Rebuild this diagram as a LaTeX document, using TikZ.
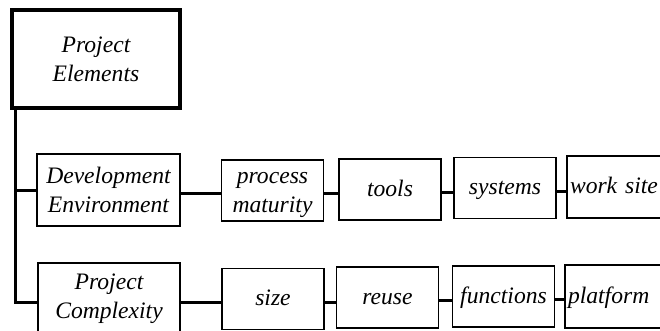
\documentclass[tikz,border=0pt]{standalone}
\usepackage{fontspec}
\setmainfont{Liberation Serif}
\usetikzlibrary{arrows,shapes}
\tikzstyle{box}=[rectangle, draw
,line width=1.3pt
,minimum width=102pt
,minimum height=61pt
,inner sep=2pt, align=center
,font=\fontsize{23.6}{29}\selectfont\itshape
]
\tikzstyle{oneline}=[box, text height=17pt, text depth=4pt]
\tikzstyle{rootbox}=[box, line width=4pt, minimum width=168pt, minimum height=98pt]
\tikzstyle{openbox}=[oneline, text width=97pt, align=left, inner xsep=3pt]
\tikzstyle{edge} = [draw,line width=3pt,-]

\begin{document}
\begin{tikzpicture}[x=1pt,y=-1pt]
    \useasboundingbox (0,0) rectangle (660,331);
    % The root and its two branches
    \node[rootbox] (PE) at (96,59) {Project\\Elements};
    \node[box, minimum width=143pt, minimum height=72pt] (DE) at (108.5,190) {Development\\Environment};
    \node[box, minimum width=142pt, minimum height=72pt] (PC) at (109,299) {Project\\Complexity};

    % Then the elements of each row
    \node[box] (PM) at (272.5,190.5) {\strut process\\maturity};
    \foreach \pos/\name/\txt in {{(390,189.5)/TL/tools}, {(505,188)/SY/systems}, {(273,299)/SZ/size}, {(387.5,297.5)/RU/reuse}, {(503.5,296.5)/FN/functions}}
        \node[oneline] (\name) at \pos {\txt};
    \node[openbox, minimum height=62pt] (WS) at (618.5,187) {work site};
    \node[openbox, minimum height=63pt] (PF) at (616.5,296.5) {platform};

    % Connect the boxes
    \coordinate (spine) at ([xshift=5pt]PE.south west);
    \path[edge] (spine) |- (DE.west);
    \path[edge] (spine) |- ([yshift=-3pt]PC.west);
    \foreach \source/ \dest in {DE/PM, PM/TL, TL/SY, SY/WS, PC/SZ, SZ/RU, RU/FN, FN/PF}
        \path[edge] ([yshift=-3pt]\source.east) -- ([yshift=-3pt]\source.east -| \dest.west);

\end{tikzpicture}
\end{document}
